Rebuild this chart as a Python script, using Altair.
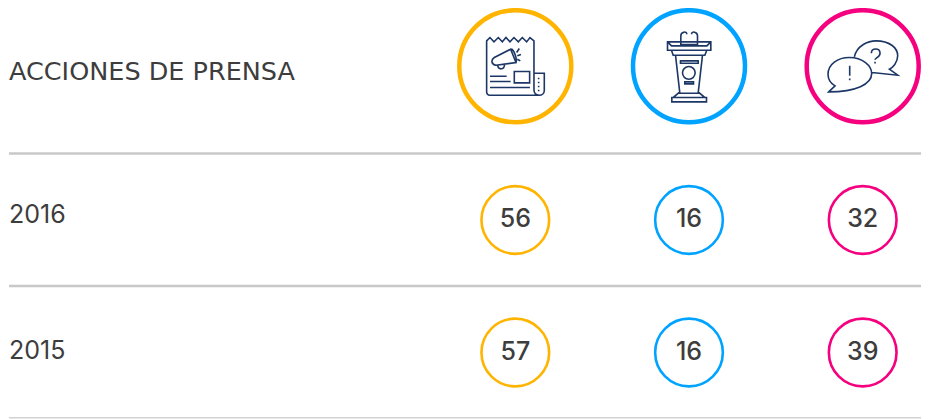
import re
import altair as alt
import pandas as pd

FONT = "Inter"
HEAD_FONT = "DejaVu Sans"
TEXT = "#3d3d3d"
NAVY = "#1c3766"

years = ["2016", "2015"]
columns = ["Prensa", "Podio", "Debate"]
colors = ["#ffb400", "#00a3ff", "#f5007f"]
values = {"2016": [56, 16, 32], "2015": [57, 16, 39]}
header = "ACCIONES DE PRENSA"


def shift(path, cx, cy=191):
    return re.sub(r"(-?\d+\.?\d*),(-?\d+\.?\d*)",
                  lambda m: f"{float(m[1]) - cx:g},{float(m[2]) - cy:g}", path)


def ring(x, y, r):
    k = r * 0.5523
    return (f"M{x - r},{y} C{x - r},{y - k} {x - k},{y - r} {x},{y - r} "
            f"C{x + k},{y - r} {x + r},{y - k} {x + r},{y} "
            f"C{x + r},{y + k} {x + k},{y + r} {x},{y + r} "
            f"C{x - k},{y + r} {x - r},{y + k} {x - r},{y} Z ")


paper = (
    "M140,115 L150,105 L162,118 L175,105 L187,118 L198,105 L210,118 L222,105 L235,118 "
    "L247,105 L260,118 L270,105 L282,115 L282,262 C282,272 288,278 298,278 L150,278 "
    "C144,278 140,274 140,268 Z "
    "M282,212 L313,212 L313,264 C313,272 306,278 298,278 "
    "M212,140 L163,165 C152,172 154,186 168,188 L228,180 Z "
    "M212,140 C222,138 232,170 228,180 "
    "M173,188 C175,203 193,203 194,185 "
    "M230,150 L238,138 M232,160 L243,156 M232,170 L241,175 "
    "M150,221 L200,221 M150,237 L212,237 M150,255 L270,255 "
    "M223,207 L269,207 L269,241 L223,241 Z "
    "M296,226 L296,230 M296,238 L296,242 M296,250 L296,254 M296,262 L296,266"
)
podium = (
    "M688,118 L818,118 L818,143 L688,143 Z M688,118 L700,130 L806,130 L818,118 "
    "M728,118 L728,100 C728,88 746,84 746,95 M778,118 L778,100 C778,88 760,84 760,95 "
    "M728,118 L728,126 L778,126 L778,118 "
    "M700,143 L705,158 L800,158 L806,143 "
    "M712,158 L725,272 L780,272 L793,158 "
    "M727,175 L780,175 L780,182 L727,182 Z "
    + ring(752, 211, 19) +
    "M740,238 L766,238 L766,244 L740,244 Z "
    "M725,268 L705,285 L800,285 L780,268 "
    "M701,285 L805,285 L805,298 L701,298 Z"
)
bubbles = (
    "M1255,163 C1262,130 1295,115 1320,115 C1360,115 1385,135 1385,160 "
    "C1385,180 1370,195 1360,200 L1385,218 L1308,210 "
    "M1178,268 L1197,250 C1180,240 1176,225 1176,215 C1176,185 1205,165 1240,165 "
    "C1280,165 1307,190 1307,213 C1307,245 1260,268 1178,268 Z "
    "M1241,190 L1241,220 M1241,228 L1241,233 "
    "M1306,152 C1306,135 1332,135 1332,152 C1332,165 1317,165 1317,172 "
    "M1317,178 L1317,183"
)
icon_paths = [shift(paper, 226), shift(podium, 752.5), shift(bubbles, 1280)]

# row positions: header, rule, 2016, rule, 2015, rule
row_scale = alt.Scale(domain=[0, 1, 2, 3, 4, 5],
                      range=[58.2, 145.5, 212, 278, 344.5, 409.7])
col_scale = alt.Scale(domain=columns, range=[507.3, 854.7], padding=0)
color_scale = alt.Scale(domain=columns, range=colors)

Y = alt.Y("row:Q", scale=row_scale, axis=None)
X = alt.X("col:N", scale=col_scale, axis=None, sort=columns)

head_df = pd.DataFrame({"col": columns, "row": 0, "icon": icon_paths})
cells = pd.DataFrame([
    {"col": c, "row": 2 + 2 * i, "value": str(values[yr][j])}
    for i, yr in enumerate(years) for j, c in enumerate(columns)
])
labels = pd.DataFrame({"row": [2, 4], "label": years, "dy": [-5, -2]})
head_label = pd.DataFrame({"row": [0], "label": [header]})
rules = pd.DataFrame({"row": [1, 3, 5], "w": [2.5, 2.5, 1.5],
                      "rc": ["#c8c8c8", "#c8c8c8", "#d2d2d2"]})

big = alt.Chart(head_df).mark_point(size=12544, strokeWidth=4.5, filled=False, opacity=1).encode(
    x=X, y=Y, stroke=alt.Stroke("col:N", scale=color_scale, legend=None))
icons = alt.Chart(head_df).mark_point(size=4 / 9, strokeWidth=1.6, filled=False, opacity=1,
                                      stroke=NAVY).encode(
    x=X, y=Y, shape=alt.Shape("icon:N", scale=None))
small = alt.Chart(cells).mark_point(size=4580, strokeWidth=2.6, filled=False, opacity=1,
                                    shape="circle").encode(
    x=X, y=Y, stroke=alt.Stroke("col:N", scale=color_scale, legend=None))
nums = alt.Chart(cells).mark_text(font=FONT, fontSize=25, fontWeight=500, color=TEXT,
                                  baseline="middle", dy=-1).encode(
    x=X, y=Y, text="value:N")
head_text = alt.Chart(head_label).mark_text(
    font=HEAD_FONT, fontSize=25.5, color=TEXT, align="left", baseline="middle", dy=6
).encode(x=alt.value(1), y=Y, text="label:N")
label_layers = [
    alt.Chart(labels[labels.row == r]).mark_text(
        font=FONT, fontSize=25, color=TEXT, align="left", baseline="middle", dy=int(d)
    ).encode(x=alt.value(1), y=Y, text="label:N")
    for r, d in zip(labels.row, labels.dy)
]
rule_layer = alt.Chart(rules).mark_rule().encode(
    x=alt.value(1), x2=alt.value(913), y=Y,
    strokeWidth=alt.StrokeWidth("w:Q", scale=None),
    stroke=alt.Stroke("rc:N", scale=None),
)

chart = alt.layer(rule_layer, big, icons, small, nums, head_text, *label_layers).properties(
    width=913, height=411,
    autosize=alt.AutoSizeParams(type="none"),
    padding=0,
).configure_view(stroke=None)

chart.save("out.html", embed_options={"renderer": "svg", "actions": False})
